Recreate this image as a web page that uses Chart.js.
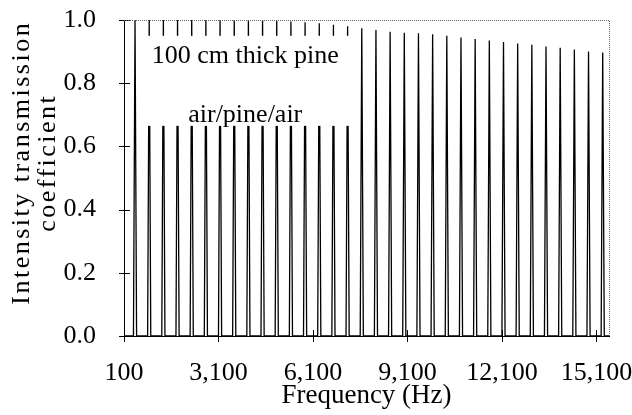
<!DOCTYPE html>
<html><head><meta charset="utf-8">
<script src="https://cdn.jsdelivr.net/npm/chart.js@4/dist/chart.umd.min.js"></script>
<style>html,body{margin:0;padding:0;background:#fff}#wrap{width:632px;height:415px}</style>
</head><body><div id="wrap"><canvas id="c" width="632" height="415"></canvas></div>
<script>
// ---- data ----
const resonanceFreqHz = [450, 900, 1350, 1800, 2250, 2700, 3150, 3600, 4050, 4500, 4950, 5400, 5850, 6300, 6750, 7200, 7650, 8100, 8550, 9000, 9450, 9900, 10350, 10800, 11250, 11700, 12150, 12600, 13050, 13500, 13950, 14400, 14850, 15300];
const peakTransmission = [1.0, 1.0, 1.0, 1.0, 1.0, 1.0, 1.0, 1.0, 1.0, 1.0, 0.998, 0.995, 0.993, 0.99, 0.985, 0.98, 0.974, 0.968, 0.963, 0.96, 0.958, 0.955, 0.95, 0.945, 0.94, 0.935, 0.93, 0.926, 0.922, 0.916, 0.912, 0.907, 0.9, 0.897];
const sampleStepHz = 50;            // frequency step of the computed samples
const baselineTransmission = 0;     // off-resonance transmission (~0)
const freqRange = [100, 15500];
const xTickValues = [100, 3100, 6100, 9100, 12100, 15100];
const yTickValues = [0, 0.2, 0.4, 0.6, 0.8, 1.0];
const xTitle = 'Frequency (Hz)';
const yTitle = ['Intensity transmission', 'coefficient'];
const noteLines = ['100 cm thick pine', 'air/pine/air'];
const noteAnchorHz = 3950;
const noteLevels = [0.885, 0.70];
const noteBoxHz = [640, 7380];
const noteBoxLevels = [0.665, 0.95];

// ---- build series from the arrays ----
const points = [{x: freqRange[0], y: baselineTransmission}];
resonanceFreqHz.forEach((f, i) => {
  points.push({x: f - sampleStepHz, y: baselineTransmission});
  points.push({x: f, y: peakTransmission[i]});
  points.push({x: f + sampleStepHz, y: baselineTransmission});
});
points.push({x: freqRange[1], y: baselineTransmission});

const FONT = 'Liberation Serif';
const FS = 26;
const fmt = v => Math.round(v).toString().replace(/\B(?=(\d{3})+(?!\d))/g, ',');

const decor = {
  id: 'decor',
  afterDatasetsDraw(chart) {
    const {ctx, scales: {x, y}} = chart;
    ctx.save();
    const bx0 = x.getPixelForValue(noteBoxHz[0]), bx1 = x.getPixelForValue(noteBoxHz[1]);
    const by0 = y.getPixelForValue(noteBoxLevels[1]), by1 = y.getPixelForValue(noteBoxLevels[0]);
    ctx.fillStyle = '#fff';
    ctx.fillRect(bx0, by0, bx1 - bx0, by1 - by0);
    ctx.fillStyle = '#000';
    ctx.font = FS + 'px "' + FONT + '"';
    ctx.textAlign = 'center';
    ctx.textBaseline = 'middle';
    noteLines.forEach((t, i) => ctx.fillText(t, x.getPixelForValue(noteAnchorHz), y.getPixelForValue(noteLevels[i])));
    ctx.restore();
  },
  afterDraw(chart) {
    const {ctx, chartArea: a, scales: {x, y}} = chart;
    ctx.save();
    ctx.strokeStyle = '#000';
    ctx.lineWidth = 1;
    ctx.beginPath();
    yTickValues.forEach(v => {
      const py = Math.round(y.getPixelForValue(v)) + 0.5;
      ctx.moveTo(a.left - 5, py); ctx.lineTo(a.left + 6, py);
    });
    xTickValues.forEach(v => {
      const px = Math.round(x.getPixelForValue(v)) + 0.5;
      ctx.moveTo(px, a.bottom - 6); ctx.lineTo(px, a.bottom + 6);
    });
    ctx.stroke();
    ctx.strokeStyle = '#666';
    ctx.setLineDash([1, 1]);
    ctx.beginPath();
    ctx.moveTo(a.left, Math.round(a.top) + 0.5);
    ctx.lineTo(Math.round(a.right) + 0.5, Math.round(a.top) + 0.5);
    ctx.lineTo(Math.round(a.right) + 0.5, a.bottom);
    ctx.stroke();
    ctx.setLineDash([]);
    // y-axis title (two rotated lines, letter-spaced like the original)
    const cy = a.top + (a.bottom - a.top) * 0.455;
    const lineX = [22, 48];
    ctx.fillStyle = '#000';
    ctx.font = FS + 'px "' + FONT + '"';
    ctx.textAlign = 'center';
    ctx.textBaseline = 'middle';
    ctx.letterSpacing = '2.5px';
    yTitle.forEach((t, i) => {
      ctx.save();
      ctx.translate(lineX[i], cy);
      ctx.rotate(-Math.PI / 2);
      ctx.fillText(t, 1, 0);
      ctx.restore();
    });
    ctx.restore();
  }
};

new Chart(document.getElementById('c'), {
  type: 'scatter',
  data: {datasets: [{
    data: points, showLine: true, borderColor: '#000', borderWidth: 1.3,
    pointRadius: 0, tension: 0, fill: false
  }]},
  options: {
    responsive: false, animation: false, devicePixelRatio: 1,
    layout: {padding: {top: 20, right: 23, left: 0, bottom: 0}},
    plugins: {legend: {display: false}, tooltip: {enabled: false}},
    scales: {
      x: {
        type: 'linear', min: freqRange[0], max: freqRange[1],
        afterBuildTicks: s => { s.ticks = xTickValues.map(v => ({value: v})); },
        afterFit: s => { s.height = 79; s.paddingLeft = 0; s.paddingRight = 0; },
        grid: {display: false},
        border: {display: true, color: '#000', width: 1},
        ticks: {color: '#000', font: {family: FONT, size: FS}, padding: 14, maxRotation: 0, autoSkip: false,
                callback: v => fmt(v)},
        title: {display: true, text: xTitle, color: '#000', font: {family: FONT, size: 27}, padding: {top: 0, bottom: 3}}
      },
      y: {
        min: 0, max: 1,
        afterBuildTicks: s => { s.ticks = yTickValues.map(v => ({value: v})); },
        afterFit: s => { s.width = 124; s.paddingTop = 0; s.paddingBottom = 0; },
        grid: {display: false},
        border: {display: true, color: '#000', width: 1},
        ticks: {color: '#000', font: {family: FONT, size: FS}, padding: 20, callback: v => Number(v).toFixed(1)},
        title: {display: false, text: yTitle}
      }
    }
  },
  plugins: [decor]
});
</script></body></html>
